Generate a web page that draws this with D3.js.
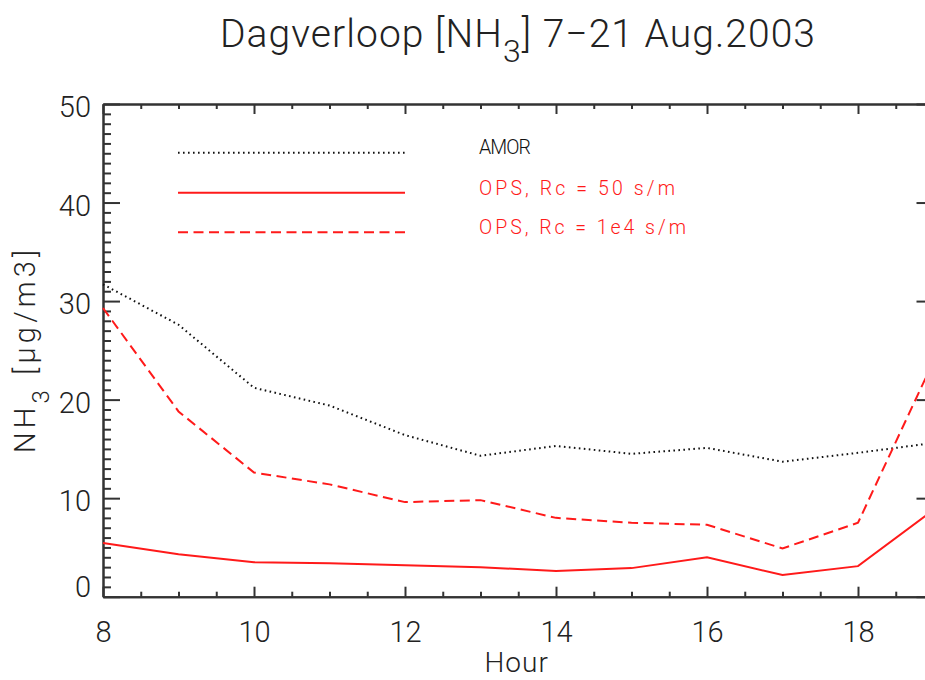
<!DOCTYPE html>
<html>
<head>
<meta charset="utf-8">
<script src="https://cdn.jsdelivr.net/npm/d3@7"></script>
<style>
  html, body { margin: 0; padding: 0; background: #fff; }
  svg { display: block; font-family: Roboto, "Liberation Sans", sans-serif; }
</style>
</head>
<body>
<svg id="chart" width="925" height="680"></svg>
<script>
// ---- data ----
const hours = [8, 9, 10, 11, 12, 13, 14, 15, 16, 17, 18, 19];
const amor = [31.7, 27.6, 21.2, 19.4, 16.4, 14.3, 15.3, 14.5, 15.1, 13.7, 14.6, 15.6];
const opsRc50 = [5.45, 4.3, 3.5, 3.4, 3.2, 3.0, 2.6, 2.9, 4.0, 2.2, 3.1, 8.8];
const opsRc1e4 = [29.3, 18.8, 12.6, 11.4, 9.6, 9.8, 8.0, 7.5, 7.3, 4.9, 7.5, 23.9];
const xMajorTicks = [8, 10, 12, 14, 16, 18];
const yMajorTicks = [0, 10, 20, 30, 40, 50];
const seriesNames = ["AMOR", "OPS, Rc = 50 s/m", "OPS, Rc = 1e4 s/m"];

const svg = d3.select("#chart");
const x = d3.scaleLinear().domain([8, 19]).range([103, 933.5]);
const y = d3.scaleLinear().domain([0, 50]).range([596.7, 104]);
const axisColor = "#333";
const textColor = "#222";

const xMinor = d3.range(8, 19.001, 0.5).filter(v => !xMajorTicks.includes(v));
const yMinor = d3.range(0, 50.001, 1).filter(v => !yMajorTicks.includes(v));

function styleAxis(g) {
  g.selectAll("path.domain").attr("stroke", axisColor).attr("stroke-width", 2);
  g.selectAll(".tick line").attr("stroke", axisColor).attr("stroke-width", 2);
}

// bottom
svg.append("g").attr("transform", `translate(0,${y(0)})`)
  .call(d3.axisBottom(x).tickValues(xMinor).tickSize(-5).tickSizeOuter(0).tickFormat(""))
  .call(styleAxis);
const gxb = svg.append("g").attr("transform", `translate(0,${y(0)})`)
  .call(d3.axisBottom(x).tickValues(xMajorTicks).tickSize(-10).tickSizeOuter(0).tickFormat(d3.format("d")))
  .call(styleAxis);
gxb.selectAll(".tick text").attr("y", 45).attr("dy", 0)
  .attr("font-size", 29).attr("font-weight", 300).attr("fill", textColor).attr("font-family", "Roboto, 'Liberation Sans', sans-serif");

// top
svg.append("g").attr("transform", `translate(0,${y(50)})`)
  .call(d3.axisTop(x).tickValues(xMinor).tickSize(-5).tickSizeOuter(0).tickFormat(""))
  .call(styleAxis);
svg.append("g").attr("transform", `translate(0,${y(50)})`)
  .call(d3.axisTop(x).tickValues(xMajorTicks).tickSize(-10).tickSizeOuter(0).tickFormat(""))
  .call(styleAxis);

// left
svg.append("g").attr("transform", `translate(${x(8)},0)`)
  .call(d3.axisLeft(y).tickValues(yMinor).tickSize(-8).tickSizeOuter(0).tickFormat(""))
  .call(styleAxis);
const gyl = svg.append("g").attr("transform", `translate(${x(8)},0)`)
  .call(d3.axisLeft(y).tickValues(yMajorTicks).tickSize(-17).tickSizeOuter(0).tickPadding(12).tickFormat(d3.format("d")))
  .call(styleAxis);
gyl.selectAll(".tick text").attr("x", -12).attr("dy", d => d === 0 ? "0" : "0.43em")
  .attr("font-size", 29).attr("font-weight", 300).attr("fill", textColor).attr("font-family", "Roboto, 'Liberation Sans', sans-serif");

// right
svg.append("g").attr("transform", `translate(${x(19)},0)`)
  .call(d3.axisRight(y).tickValues(yMinor).tickSize(-8).tickSizeOuter(0).tickFormat(""))
  .call(styleAxis);
svg.append("g").attr("transform", `translate(${x(19)},0)`)
  .call(d3.axisRight(y).tickValues(yMajorTicks).tickSize(-17).tickSizeOuter(0).tickFormat(""))
  .call(styleAxis);

// lines
const line = d3.line().x((d, i) => x(hours[i])).y(d => y(d));
const styles = [
  { data: amor, color: "#111", dash: "1.6,3.4", width: 2 },
  { data: opsRc50, color: "#ff1a1a", dash: null, width: 2 },
  { data: opsRc1e4, color: "#ff1a1a", dash: "10,5.5", width: 2 }
];
styles.forEach(s => {
  svg.append("path").datum(s.data).attr("d", line)
    .attr("fill", "none").attr("stroke", s.color).attr("stroke-width", s.width)
    .attr("stroke-dasharray", s.dash);
});

// text fit helper
function fitWidth(t, target) {
  const w = t.node().getComputedTextLength();
  const n = t.text().length;
  if (n > 1) t.attr("letter-spacing", (target - w) / (n - 1));
}

// legend
const legY = [152.7, 192.7, 232.3];
const legTextW = [52, 196, 207];
styles.forEach((s, i) => {
  svg.append("line").attr("x1", 178).attr("x2", 405).attr("y1", legY[i]).attr("y2", legY[i])
    .attr("stroke", s.color).attr("stroke-width", s.width).attr("stroke-dasharray", s.dash);
  const t = svg.append("text").attr("x", 479).attr("y", legY[i] + (i === 0 ? 1 : 2))
    .attr("font-size", 19.5).attr("font-weight", 300)
    .attr("fill", i === 0 ? "#111" : "#ff1a1a").text(seriesNames[i]);
  fitWidth(t, legTextW[i]);
});

// title
const title = svg.append("text").attr("x", 220).attr("y", 47)
  .attr("font-size", 39).attr("font-weight", 300).attr("fill", textColor);
title.append("tspan").text("Dagverloop [NH");
title.append("tspan").attr("font-size", 32).attr("dy", 15).text("3");
title.append("tspan").attr("dy", -15).text("] 7−21 Aug.2003");
fitWidth(title, 595);

// y label
const yl = svg.append("text").attr("transform", "translate(35,453) rotate(-90)")
  .attr("font-size", 29).attr("font-weight", 300).attr("fill", textColor);
yl.append("tspan").text("NH");
yl.append("tspan").attr("font-size", 24).attr("dy", 14).text("3");
yl.append("tspan").attr("dy", -14).text(" [μg/m3]");
fitWidth(yl, 203);

// x label
svg.append("text").attr("x", 516.7).attr("y", 672).attr("text-anchor", "middle")
  .attr("font-size", 28).attr("font-weight", 300).attr("fill", textColor).attr("letter-spacing", 1)
  .text("Hour");
</script>
</body>
</html>
